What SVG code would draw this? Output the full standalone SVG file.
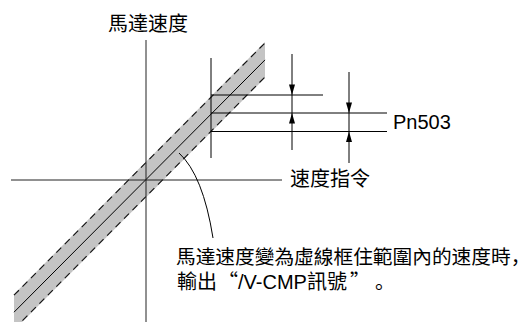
<svg xmlns="http://www.w3.org/2000/svg" width="531" height="322" viewBox="0 0 531 322">
<style>
.ln{stroke:#000;stroke-width:1;fill:none}
.ax{stroke:#222;stroke-width:1;fill:none}
.dash{stroke:#111;stroke-width:1.1;fill:none;stroke-dasharray:7 5}
.band{fill:#c4c4c4;stroke:none}
.ah{fill:#000}
.cjk{font-family:"Noto Sans CJK SC","Noto Sans CJK TC",sans-serif;font-size:20px;fill:#000}
.lat{font-family:"Liberation Sans",Arial,sans-serif;font-size:20px;fill:#000}
</style>
<rect width="531" height="322" fill="#fff"/>
<g id="band">
<polygon class="band" points="14,294.2 265,41.9 265,77.9 14,330.2"/>
<line class="dash" x1="14" y1="295.2" x2="265" y2="42.9"/>
<line class="dash" x1="14" y1="329.2" x2="265" y2="76.9"/>
<line class="ln" x1="14" y1="312.2" x2="265" y2="59.9"/>
</g>
<g id="axes">
<line class="ax" x1="146" y1="40" x2="146" y2="322"/>
<line class="ax" x1="11" y1="180" x2="282" y2="180"/>
</g>
<g id="connectors">
<line class="ln" x1="211" y1="58" x2="211" y2="158"/>
<line class="ln" x1="211" y1="95" x2="323" y2="95"/>
<line class="ln" x1="211" y1="113" x2="387" y2="113"/>
<line class="ln" x1="211" y1="131.5" x2="387" y2="131.5"/>
<line class="ln" x1="292" y1="54" x2="292" y2="150"/>
<line class="ln" x1="349" y1="72" x2="349" y2="163"/>
<polygon class="ah" points="289,84.5 295,84.5 292,95"/>
<polygon class="ah" points="289,123.5 295,123.5 292,113"/>
<polygon class="ah" points="346,102.5 352,102.5 349,113"/>
<polygon class="ah" points="346,142 352,142 349,131.5"/>
<path class="ln" d="M179,153 Q203,175 213,238"/>
</g>
<g id="labels">
<text class="cjk" x="108" y="30.5">馬達速度</text>
<text class="cjk" x="290" y="186">速度指令</text>
<text class="lat" x="393" y="129">Pn503</text>
<text class="cjk" x="176" y="264"><tspan style="font-size:19.7px">馬達速度變為虛線框住範圍內的速度時，</tspan><tspan x="177" y="289">輸出</tspan><tspan x="218">“</tspan><tspan class="lat" x="238">/V-CMP</tspan><tspan>訊號</tspan><tspan x="350">” </tspan><tspan x="375">。</tspan></text>
</g>
</svg>
